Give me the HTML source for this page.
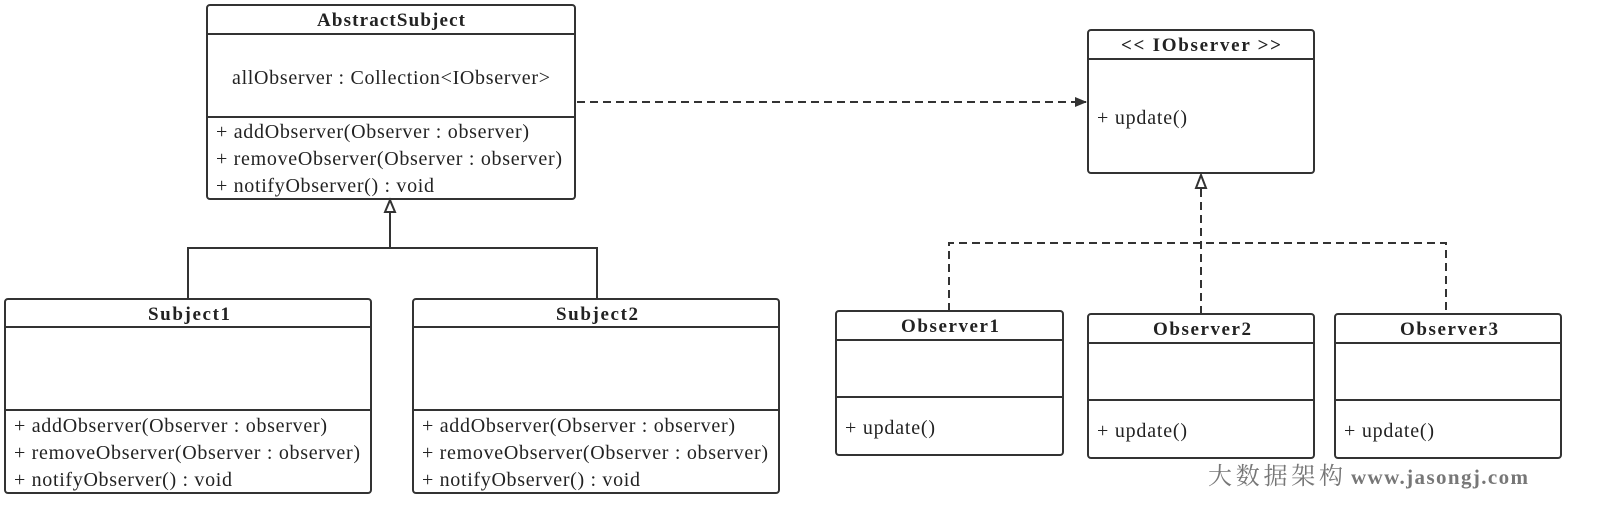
<!DOCTYPE html>
<html><head><style>body{margin:0;background:#fff}svg{display:block}text{font-family:"Liberation Serif","Times New Roman",serif;fill:#222;font-size:20px}.b{font-weight:bold;font-size:19px}</style></head><body>
<svg width="1598" height="508" viewBox="0 0 1598 508">
<defs>
<marker id="f" markerWidth="12" markerHeight="10" refX="11" refY="5" orient="auto" markerUnits="userSpaceOnUse"><path d="M0,0 L12,5 L0,10 Z" fill="#333"/></marker>
</defs>
<g fill="#fff" stroke="#333" stroke-width="2">
<rect x="207" y="5" width="368" height="194" rx="3"/>
<line x1="207" y1="34" x2="575" y2="34"/><line x1="207" y1="117" x2="575" y2="117"/>
<rect x="5" y="299" width="366" height="194" rx="3"/>
<line x1="5" y1="327" x2="371" y2="327"/><line x1="5" y1="410" x2="371" y2="410"/>
<rect x="413" y="299" width="366" height="194" rx="3"/>
<line x1="413" y1="327" x2="779" y2="327"/><line x1="413" y1="410" x2="779" y2="410"/>
<rect x="1088" y="30" width="226" height="143" rx="3"/>
<line x1="1088" y1="59" x2="1314" y2="59"/>
<rect x="836" y="311" width="227" height="144" rx="3"/>
<line x1="836" y1="340" x2="1063" y2="340"/><line x1="836" y1="397" x2="1063" y2="397"/>
<rect x="1088" y="314" width="226" height="144" rx="3"/>
<line x1="1088" y1="343" x2="1314" y2="343"/><line x1="1088" y1="400" x2="1314" y2="400"/>
<rect x="1335" y="314" width="226" height="144" rx="3"/>
<line x1="1335" y1="343" x2="1561" y2="343"/><line x1="1335" y1="400" x2="1561" y2="400"/>
</g>
<g fill="none" stroke="#333" stroke-width="2">
<polyline points="188,299 188,248 597,248 597,299"/>
<line x1="390" y1="248" x2="390" y2="212"/>
<path d="M390,200 L385,212 L395,212 Z" fill="#fff"/>
<line x1="577" y1="102" x2="1086" y2="102" stroke-dasharray="8,5" marker-end="url(#f)"/>
<polyline points="949,311 949,243 1446,243 1446,314" stroke-dasharray="8,5"/>
<line x1="1201" y1="314" x2="1201" y2="188" stroke-dasharray="8,5"/>
<path d="M1201,175 L1196,188 L1206,188 Z" fill="#fff"/>
</g>
<text class="b" x="317" y="26" textLength="148">AbstractSubject</text>
<text x="232" y="84" textLength="318">allObserver : Collection&lt;IObserver&gt;</text>
<text x="216" y="138" textLength="313">+ addObserver(Observer : observer)</text>
<text x="216" y="165" textLength="346">+ removeObserver(Observer : observer)</text>
<text x="216" y="192" textLength="218">+ notifyObserver() : void</text>
<text class="b" x="148" y="320" textLength="82">Subject1</text>
<text x="14" y="432" textLength="313">+ addObserver(Observer : observer)</text>
<text x="14" y="459" textLength="346">+ removeObserver(Observer : observer)</text>
<text x="14" y="486" textLength="218">+ notifyObserver() : void</text>
<text class="b" x="556" y="320" textLength="82">Subject2</text>
<text x="422" y="432" textLength="313">+ addObserver(Observer : observer)</text>
<text x="422" y="459" textLength="346">+ removeObserver(Observer : observer)</text>
<text x="422" y="486" textLength="218">+ notifyObserver() : void</text>
<text class="b" x="1121" y="51" textLength="160">&lt;&lt; IObserver &gt;&gt;</text>
<text x="1097" y="124" textLength="90">+ update()</text>
<text class="b" x="901" y="332" textLength="98">Observer1</text>
<text x="845" y="434" textLength="90">+ update()</text>
<text class="b" x="1153" y="335" textLength="98">Observer2</text>
<text x="1097" y="437" textLength="90">+ update()</text>
<text class="b" x="1400" y="335" textLength="98">Observer3</text>
<text x="1344" y="437" textLength="90">+ update()</text>
<text x="1208" y="484" textLength="135" style="font-size:24px;fill:#777;font-family:'Noto Serif CJK SC','Noto Sans CJK SC',serif">大数据架构</text>
<text x="1351" y="484" textLength="177" style="font-size:21px;fill:#777;font-weight:bold">www.jasongj.com</text>
</svg>
</body></html>
